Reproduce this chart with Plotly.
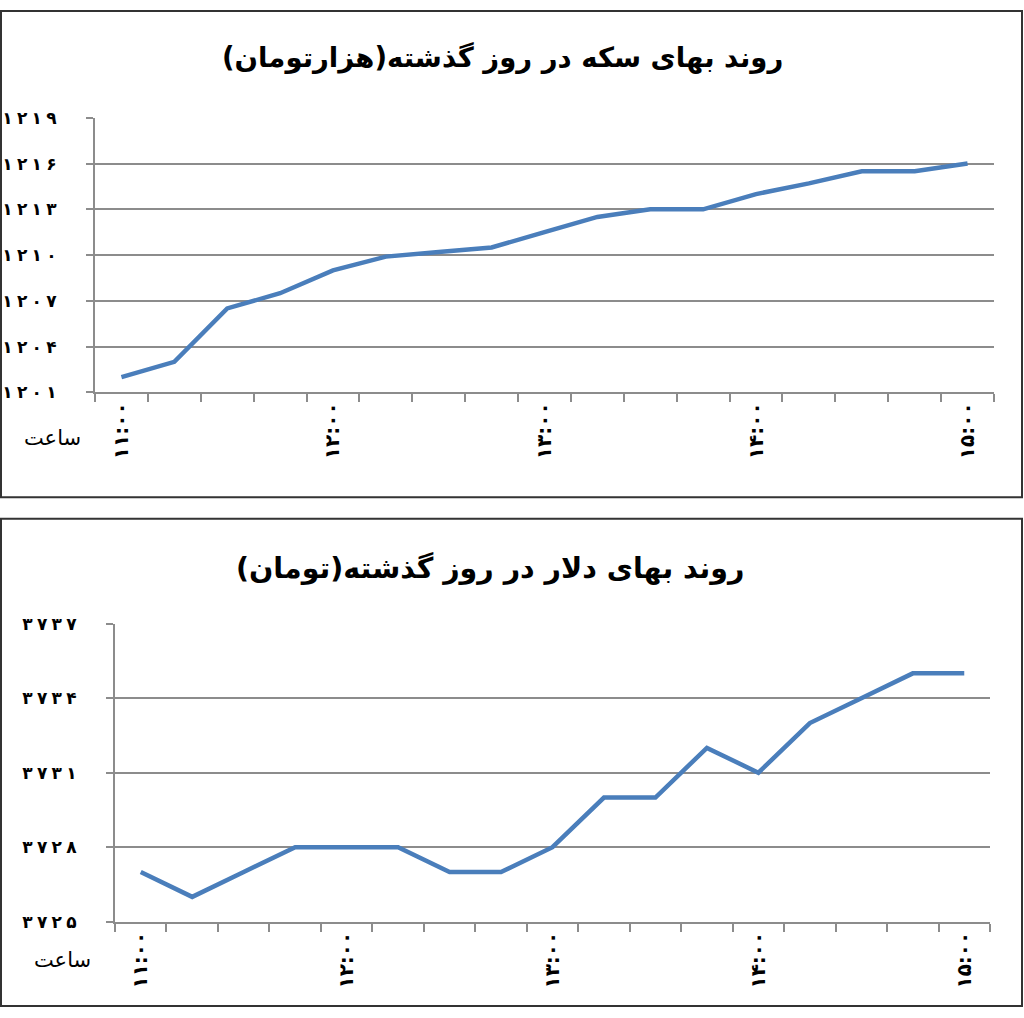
import plotly.graph_objects as go

# time of day, every 15 minutes from 11:00 to 15:00
times = ["11:00", "11:15", "11:30", "11:45", "12:00", "12:15", "12:30", "12:45",
         "13:00", "13:15", "13:30", "13:45", "14:00", "14:15", "14:30", "14:45", "15:00"]
hour_labels = ["۱۱:۰۰", "۱۲:۰۰", "۱۳:۰۰", "۱۴:۰۰", "۱۵:۰۰"]

# coin price (thousand toman)
coin = [1202, 1203, 1206.5, 1207.5, 1209, 1209.9, 1210.2, 1210.5, 1211.5,
        1212.5, 1213, 1213, 1214, 1214.7, 1215.5, 1215.5, 1216]
coin_ticks = [1201, 1204, 1207, 1210, 1213, 1216, 1219]

# dollar price (toman)
dollar = [3727, 3726, 3727, 3728, 3728, 3728, 3727, 3727, 3728,
          3730, 3730, 3732, 3731, 3733, 3734, 3735, 3735]
dollar_ticks = [3725, 3728, 3731, 3734, 3737]

title_coin = "روند بهای سکه در روز گذشته(هزارتومان)"
title_dollar = "روند بهای دلار در روز گذشته(تومان)"
x_name = "ساعت"

W, H = 1024, 1018
FONT = "DejaVu Sans"
BLUE = "#4a7ebb"
GRID = "#8c8c8c"


def fa(n):
    # persian digits, spaced out like the original
    digits = "۰۱۲۳۴۵۶۷۸۹"
    return "<b>" + "\u2005".join(digits[int(c)] for c in str(n)) + "</b>"


idx = list(range(len(times)))
hour_pos = [i for i, t in enumerate(times) if t.endswith(":00")]

fig = go.Figure()
fig.add_trace(go.Scatter(x=idx, y=coin, mode="lines", line=dict(color=BLUE, width=4.5),
                         xaxis="x", yaxis="y", showlegend=False))
fig.add_trace(go.Scatter(x=idx, y=dollar, mode="lines", line=dict(color=BLUE, width=4.5),
                         xaxis="x2", yaxis="y2", showlegend=False))


def xax(left, right, anchor):
    return dict(domain=[left / W, right / W], anchor=anchor, range=[-0.5, len(times) - 0.5],
                tickmode="array", tickvals=hour_pos,
                ticktext=["<b>" + t + "</b>" for t in hour_labels], tickangle=-90,
                ticks="", showgrid=False, zeroline=False, showline=True,
                linecolor=GRID, linewidth=2,
                tickfont=dict(family=FONT, size=20, color="black"),
                minor=dict(tick0=-0.5, dtick=1, ticks="outside", ticklen=8,
                           tickcolor=GRID, tickwidth=2, showgrid=False))


def yax(top, bottom, anchor, ticks, standoff):
    return dict(domain=[1 - bottom / H, 1 - top / H], anchor=anchor,
                range=[ticks[0], ticks[-1]], tickmode="array", tickvals=ticks,
                ticktext=[fa(t) for t in ticks], ticks="outside", ticklen=7,
                tickcolor=GRID, tickwidth=2, showgrid=True, gridcolor=GRID, gridwidth=2,
                zeroline=False, showline=True, linecolor=GRID, linewidth=2,
                ticklabelstandoff=standoff,
                tickfont=dict(family=FONT, size=17, color="black"))


def note(text, x, y, size):
    return dict(text=text, x=x / W, y=1 - y / H, xref="paper", yref="paper",
                xanchor="center", yanchor="middle", showarrow=False,
                font=dict(family=FONT, size=size, color="black"))


fig.update_layout(
    width=W, height=H, margin=dict(l=0, r=0, t=0, b=0),
    paper_bgcolor="white", plot_bgcolor="white",
    xaxis=xax(95, 994, "y"),
    yaxis=yax(110, 390, "x", coin_ticks, 26),
    xaxis2=xax(115, 990, "y2"),
    yaxis2=yax(626, 930, "x2", dollar_ticks, 26),
    shapes=[
        dict(type="rect", xref="paper", yref="paper", x0=1 / W, x1=1022 / W,
             y0=1 - 497 / H, y1=1 - 1 / H, line=dict(color="#333333", width=2)),
        dict(type="rect", xref="paper", yref="paper", x0=1 / W, x1=1022 / W,
             y0=1 - 1016 / H, y1=1 - 519 / H, line=dict(color="#333333", width=2)),
    ],
    annotations=[
        note("<b>" + title_coin + "</b>", 502, 48, 27.5),
        note("<b>" + title_dollar + "</b>", 490, 570, 28.5),
        note(x_name, 52, 437, 21),
        note(x_name, 62, 969, 21),
    ],
)

fig.write_html("out.html", config={"displayModeBar": False},
               post_script="document.body.style.margin='0';")
